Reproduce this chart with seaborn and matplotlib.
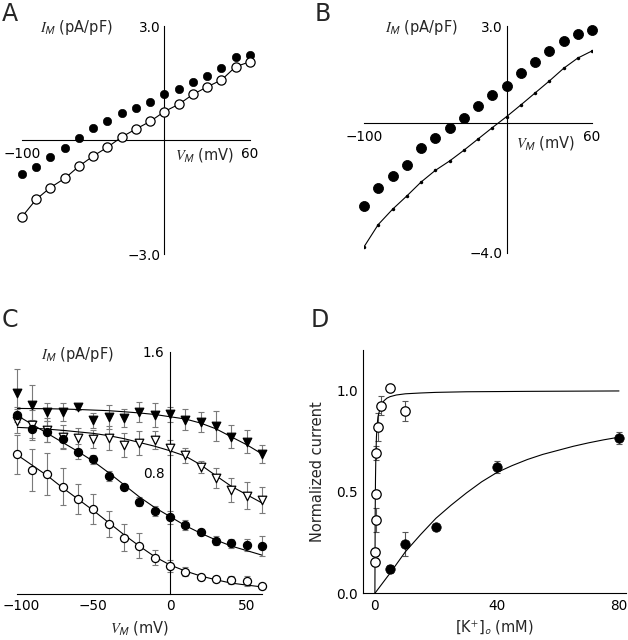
import numpy as np
import matplotlib
matplotlib.use("Agg")
import matplotlib.pyplot as plt
import matplotlib.transforms as mtransforms
import seaborn as sns

# ---- data ----
volt = [-100, -90, -80, -70, -60, -50, -40, -30, -20, -10, 0, 10, 20, 30, 40, 50, 60]

# panel A
a_filled = [-0.89, -0.72, -0.45, -0.20, 0.06, 0.32, 0.50, 0.71, 0.85, 1.01,
            1.22, 1.34, 1.52, 1.69, 1.90, 2.18, 2.25]
a_open = [-2.02, -1.56, -1.25, -1.01, -0.69, -0.42, -0.19, 0.08, 0.29, 0.49,
          0.75, 0.94, 1.20, 1.40, 1.58, 1.93, 2.06]

# panel B
b_filled = [-2.57, -2.00, -1.63, -1.28, -0.78, -0.47, -0.15, 0.15, 0.53, 0.86,
            1.15, 1.54, 1.88, 2.24, 2.55, 2.74, 2.88]
b_line = [-3.82, -3.13, -2.66, -2.25, -1.82, -1.46, -1.17, -0.84, -0.49, -0.14,
          0.20, 0.56, 0.93, 1.30, 1.69, 2.01, 2.23]

# panel C (mean, sem)
c_tri_f = [1.325, 1.247, 1.199, 1.199, 1.237, 1.148, 1.170, 1.160, 1.200, 1.180,
           1.186, 1.150, 1.133, 1.109, 1.038, 1.005, 0.924]
c_tri_f_err = [0.16, 0.13, 0.06, 0.06, 0.02, 0.05, 0.08, 0.06, 0.065, 0.08,
               0.05, 0.07, 0.066, 0.10, 0.077, 0.077, 0.06]
c_tri_o = [1.142, 1.115, 1.080, 1.034, 1.027, 1.021, 1.027, 0.983, 0.994, 1.016,
           0.965, 0.914, 0.836, 0.763, 0.686, 0.648, 0.620]
c_tri_o_err = [0.08, 0.10, 0.08, 0.08, 0.07, 0.06, 0.08, 0.08, 0.08, 0.06,
               0.05, 0.05, 0.04, 0.065, 0.077, 0.09, 0.085]
c_circ_f = [1.182, 1.089, 1.071, 1.021, 0.939, 0.888, 0.778, 0.708, 0.608, 0.547,
            0.504, 0.454, 0.406, 0.350, 0.333, 0.322, 0.317]
c_circ_f_err = [0.05, 0.06, 0.07, 0.06, 0.05, 0.03, 0.03, 0.02, 0.03, 0.03,
                0.04, 0.03, 0.02, 0.03, 0.03, 0.04, 0.066]
c_circ_o = [0.921, 0.818, 0.791, 0.708, 0.625, 0.558, 0.461, 0.370, 0.317, 0.238,
            0.185, 0.146, 0.108, 0.095, 0.091, 0.084, 0.051]
c_circ_o_err = [0.13, 0.14, 0.14, 0.12, 0.10, 0.10, 0.085, 0.09, 0.083, 0.05,
                0.04, 0.03, 0.02, 0.02, 0.025, 0.035, 0.02]
# fitted curves in C
c_fit_tri_f = [1.225, 1.224, 1.223, 1.221, 1.218, 1.214, 1.21, 1.203, 1.195, 1.185,
               1.17, 1.155, 1.128, 1.09, 1.037, 0.985, 0.924]
c_fit_tri_o = [1.10, 1.095, 1.088, 1.08, 1.07, 1.06, 1.045, 1.025, 1.0, 0.975,
               0.945, 0.91, 0.852, 0.78, 0.71, 0.655, 0.60]
c_fit_circ_f = [1.18, 1.12, 1.06, 1.00, 0.94, 0.875, 0.80, 0.72, 0.64, 0.57,
                0.51, 0.45, 0.40, 0.355, 0.315, 0.285, 0.255]
c_fit_circ_o = [0.92, 0.85, 0.78, 0.70, 0.625, 0.55, 0.47, 0.39, 0.315, 0.245,
                0.19, 0.15, 0.117, 0.092, 0.07, 0.057, 0.045]

# panel D
d_conc_o = [0.05, 0.1, 0.2, 0.3, 0.5, 1, 2, 5, 10]
d_open = [0.155, 0.203, 0.361, 0.490, 0.692, 0.820, 0.926, 1.014, 0.898]
d_open_err = [0.02, 0.02, 0.058, 0.02, 0.036, 0.07, 0.046, 0.0, 0.05]
d_conc_f = [5, 10, 20, 40, 80]
d_filled = [0.122, 0.244, 0.325, 0.624, 0.768]
d_filled_err = [0.02, 0.06, 0.01, 0.03, 0.03]
d_fit_o_x = [0, 0.1, 0.2, 0.3, 0.5, 0.75, 1, 1.5, 2, 3, 4, 5, 7, 10, 15, 20, 30, 50, 80]
d_fit_o_y = [0, 0.40, 0.57, 0.66, 0.77, 0.83, 0.87, 0.90, 0.925, 0.95, 0.963, 0.97,
             0.978, 0.984, 0.988, 0.991, 0.994, 0.996, 0.998]
d_fit_f_x = [0, 5, 10, 15, 20, 25, 30, 35, 40, 45, 50, 55, 60, 65, 70, 75, 80]
d_fit_f_y = [0, 0.10, 0.205, 0.29, 0.37, 0.435, 0.495, 0.55, 0.596, 0.63, 0.66,
             0.685, 0.705, 0.725, 0.742, 0.757, 0.77]

# ---- style ----
sns.set_style("white")
plt.rcParams["font.family"] = ["DejaVu Sans"]
plt.rcParams["mathtext.fontset"] = "stix"
FS = 9.8
LFS = 10.5
LW = 0.8

fig = plt.figure(figsize=(6.28, 6.40), dpi=100)
W, H = 628, 640


def box(x0, y0, x1, y1):
    return [x0 / W, 1 - y1 / H, (x1 - x0) / W, (y1 - y0) / H]


axA = fig.add_axes(box(22, 26, 250, 254))
axB = fig.add_axes(box(364, 26, 592, 252.7))
axC = fig.add_axes(box(16.7, 351.7, 262, 593.7))
axD = fig.add_axes(box(363.3, 350, 625.7, 593.3))

ilabel = r"$I_{\mathsf{M}}$ (pA/pF)"
vlabel = r"$V_{\mathsf{M}}$ (mV)"


def cross_axes(ax, ylim, ylabels):
    ax.set_xlim(-100, 60)
    ax.set_ylim(*ylim)
    ax.spines["top"].set_visible(False)
    ax.spines["right"].set_visible(False)
    ax.spines["left"].set_position(("data", 0))
    ax.spines["bottom"].set_position(("data", 0))
    for s in ["left", "bottom"]:
        ax.spines[s].set_linewidth(LW)
        ax.spines[s].set_color("black")
    ax.set_xticks([-100, -80, -60, -40, -20, 0, 20, 40, 60])
    ax.set_xticklabels(["\u2212100", "", "", "", "", "", "", "", "60"])
    ax.set_yticks(list(ylim))
    ax.set_yticklabels(ylabels)
    ax.tick_params(direction="in", length=4, width=LW, labelsize=FS, pad=3,
                   colors="black")
    ax.tick_params(axis="x", pad=5)
    ax.set_xlabel("")
    ax.set_ylabel("")


# ---- A ----
sns.lineplot(x=volt, y=a_open, ax=axA, color="black", lw=LW, marker="o",
             markersize=2, markeredgewidth=0, sort=False, estimator=None)
sns.scatterplot(x=volt, y=a_filled, ax=axA, color="black", s=36, edgecolor="black",
                zorder=3, clip_on=False)
sns.scatterplot(x=volt, y=a_open, ax=axA, facecolor="white", edgecolor="black",
                linewidth=0.9, s=44, zorder=3, clip_on=False)
cross_axes(axA, (-3.0, 3.0), ["\u22123.0", "3.0"])
axA.text(0.08, 0.995, ilabel, transform=axA.transAxes, fontsize=LFS, va="center")
axA.text(0.67, 0.435, vlabel, transform=axA.transAxes, fontsize=LFS, va="center")

# ---- B ----
sns.lineplot(x=volt, y=b_line, ax=axB, color="black", lw=LW, marker="o",
             markersize=2.5, markeredgewidth=0, sort=False, estimator=None)
sns.scatterplot(x=volt, y=b_filled, ax=axB, color="black", s=52, edgecolor="black",
                zorder=3, clip_on=False)
cross_axes(axB, (-4.0, 3.0), ["\u22124.0", "3.0"])
axB.text(0.09, 0.995, ilabel, transform=axB.transAxes, fontsize=LFS, va="center")
axB.text(0.665, 0.485, vlabel, transform=axB.transAxes, fontsize=LFS, va="center")

# ---- C ----
series_c = [
    (c_tri_f, c_tri_f_err, c_fit_tri_f, "v", "black"),
    (c_tri_o, c_tri_o_err, c_fit_tri_o, "v", "white"),
    (c_circ_f, c_circ_f_err, c_fit_circ_f, "o", "black"),
    (c_circ_o, c_circ_o_err, c_fit_circ_o, "o", "white"),
]
for vals, err, fit, mk, fc in series_c:
    axC.errorbar(volt, vals, yerr=err, fmt="none", ecolor="#7a7a7a",
                 elinewidth=0.8, capsize=2.5, capthick=0.8, zorder=1, clip_on=False)
    sns.lineplot(x=volt, y=fit, ax=axC, color="black", lw=LW, sort=False,
                 estimator=None, zorder=2)
    sns.scatterplot(x=volt, y=vals, ax=axC, marker=mk, facecolor=fc,
                    edgecolor="black", linewidth=0.9, s=34 if mk == "o" else 38,
                    zorder=3, clip_on=False)
axC.set_xlim(-100, 60)
axC.set_ylim(0, 1.6)
axC.spines["top"].set_visible(False)
axC.spines["right"].set_visible(False)
axC.spines["left"].set_position(("data", 0))
for s in ["left", "bottom"]:
    axC.spines[s].set_linewidth(LW)
    axC.spines[s].set_color("black")
axC.set_xticks([-100, -75, -50, -25, 0, 25, 50])
axC.set_xticklabels(["\u2212100", "", "\u221250", "", "0", "", "50"])
axC.set_yticks([0, 0.2, 0.4, 0.6, 0.8, 1.0, 1.2, 1.4, 1.6])
axC.set_yticklabels(["", "", "", "", "0.8", "", "", "", "1.6"])
axC.tick_params(direction="in", length=4, width=LW, labelsize=FS, pad=4,
                colors="black")
# keep the "-100" label inside the figure
first = axC.get_xticklabels()[0]
first.set_transform(first.get_transform() +
                    mtransforms.ScaledTranslation(4 / 100, 0, fig.dpi_scale_trans))
axC.set_xlabel(vlabel, fontsize=LFS, labelpad=4)
axC.set_ylabel("")
axC.text(0.1, 0.99, ilabel, transform=axC.transAxes, fontsize=LFS, va="center")

# ---- D ----
axD.errorbar(d_conc_o, d_open, yerr=d_open_err, fmt="none", ecolor="#555555",
             elinewidth=0.8, capsize=2.5, capthick=0.8, zorder=1)
axD.errorbar(d_conc_f, d_filled, yerr=d_filled_err, fmt="none", ecolor="#555555",
             elinewidth=0.8, capsize=2.5, capthick=0.8, zorder=1, clip_on=False)
sns.lineplot(x=d_fit_o_x, y=d_fit_o_y, ax=axD, color="black", lw=LW, sort=False,
             estimator=None, zorder=2)
sns.lineplot(x=d_fit_f_x, y=d_fit_f_y, ax=axD, color="black", lw=LW, sort=False,
             estimator=None, zorder=2)
sns.scatterplot(x=d_conc_o, y=d_open, ax=axD, facecolor="white", edgecolor="black",
                linewidth=0.9, s=46, zorder=3, clip_on=False)
sns.scatterplot(x=d_conc_f, y=d_filled, ax=axD, color="black", edgecolor="black",
                s=46, zorder=3, clip_on=False)
axD.set_xlim(-3.8, 82.2)
axD.set_ylim(0, 1.2)
axD.spines["top"].set_visible(False)
axD.spines["right"].set_visible(False)
for s in ["left", "bottom"]:
    axD.spines[s].set_linewidth(LW)
    axD.spines[s].set_color("black")
axD.set_xticks([0, 20, 40, 60, 80])
axD.set_xticklabels(["0", "", "40", "", "80"])
axD.set_yticks([0, 0.25, 0.5, 0.75, 1.0])
axD.set_yticklabels(["0.0", "", "0.5", "", "1.0"])
axD.tick_params(direction="in", length=4, width=LW, labelsize=FS, pad=4,
                colors="black")
axD.set_xlabel(r"[K$^{+}$]$_{\mathsf{o}}$ (mM)", fontsize=LFS, labelpad=4)
axD.set_ylabel("Normalized current", fontsize=LFS, labelpad=8)

# panel letters
for letter, x, y in [("A", 2, 2), ("B", 315, 2), ("C", 2, 308), ("D", 311, 308)]:
    fig.text(x / W, 1 - y / H, letter, fontsize=17, va="top", ha="left")

fig.savefig("out.png", dpi=100)
